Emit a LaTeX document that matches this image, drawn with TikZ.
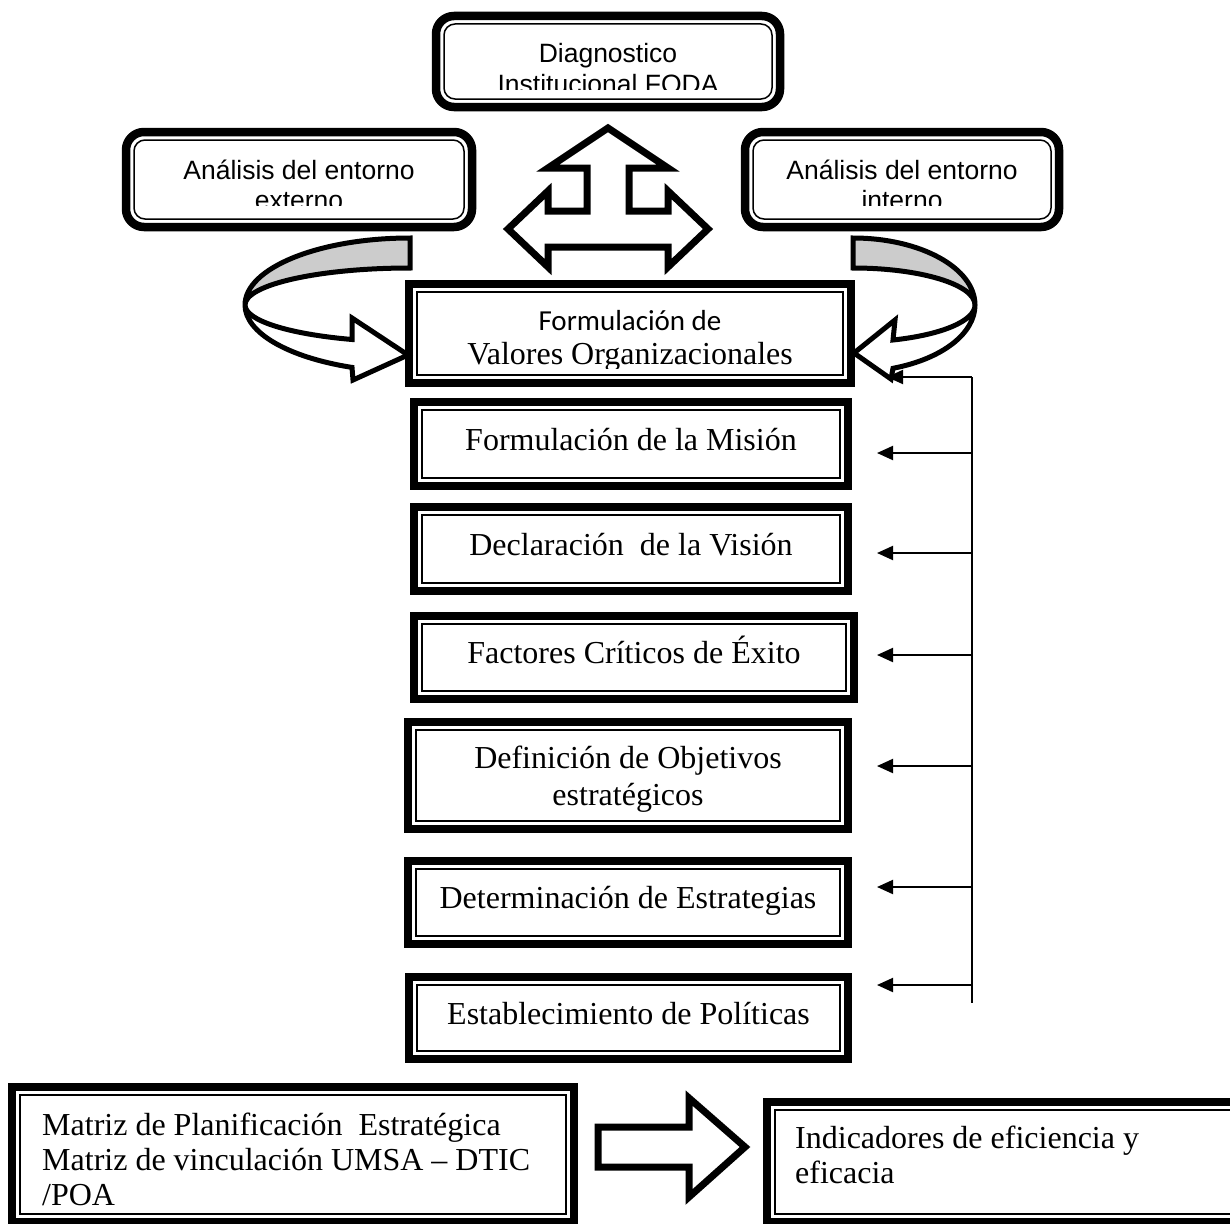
\documentclass[tikz,border=0pt]{standalone}
\usepackage{fontspec}
\setmainfont{Liberation Serif}
\newfontfamily\arialf{Liberation Sans}
\newfontfamily\calibf{Carlito}
\usetikzlibrary{arrows.meta}
\newcommand{\szT}{\fontsize{32}{38}\selectfont}
\newcommand{\szA}{\arialf\fontsize{26.5}{30}\selectfont}
\newcommand{\szC}{\calibf\fontsize{29}{34}\selectfont}
\newcommand{\szM}{\fontsize{32}{35}\selectfont}
\begin{document}
\begin{tikzpicture}[x=1pt,y=-1pt,
  dbox/.style={draw, line width=8.5pt, rectangle, outer sep=0pt, inner sep=0pt, fill=white,
    path picture={\draw[line width=1.5pt] ([shift={(8pt,-8pt)}]path picture bounding box.north west) rectangle ([shift={(-8pt,8pt)}]path picture bounding box.south east);}},
  rbox/.style={draw, line width=8.5pt, rectangle, rounded corners=18pt, outer sep=0pt, inner sep=0pt, fill=white,
    path picture={\draw[line width=1.5pt, rounded corners=11pt] ([shift={(8pt,-8pt)}]path picture bounding box.north west) rectangle ([shift={(-8pt,8pt)}]path picture bounding box.south east);}},
  tx/.style={anchor=base, inner sep=0pt, font=\szT},
  atx/.style={anchor=base, inner sep=0pt, font=\szA},
  ctx/.style={anchor=base, inner sep=0pt, font=\szC},
  mtx/.style={anchor=base west, inner sep=0pt, font=\szM},
  blockarrow/.style={draw, line width=7pt, fill=white, line join=miter},
  ribbon/.style={draw, line width=5pt, line join=miter},
  fbline/.style={draw, line width=2pt},
  fb/.style={draw, line width=2pt, -{Triangle[length=16pt,width=14pt]}}
]
\useasboundingbox (0,0) rectangle (1230,1223);
\clip (0,0) rectangle (1230,1223);

% ---------- boxes ----------
\node[rbox, minimum width=344pt, minimum height=91pt] (diag) at (608,61.5) {};
\node[rbox, minimum width=346pt, minimum height=95pt] (ext) at (299,179.5) {};
\node[rbox, minimum width=314pt, minimum height=95pt] (int) at (902,179.5) {};
\node[dbox, minimum width=442pt, minimum height=99pt] (val) at (630,333.5) {};
\node[dbox, minimum width=434pt, minimum height=84pt] (mis) at (631,444) {};
\node[dbox, minimum width=434pt, minimum height=84pt] (vis) at (631,549) {};
\node[dbox, minimum width=440pt, minimum height=83pt] (fac) at (634,657.5) {};
\node[dbox, minimum width=440pt, minimum height=107pt] (obj) at (628,775.5) {};
\node[dbox, minimum width=440pt, minimum height=83pt] (est) at (628,902.5) {};
\node[dbox, minimum width=439pt, minimum height=82pt] (pol) at (628.5,1018) {};
\node[dbox, minimum width=562pt, minimum height=135pt] (mat) at (293,1154.5) {};
\node[dbox, minimum width=489pt, minimum height=120pt] (ind) at (1011.5,1162) {};

% ---------- three-way block arrow ----------
\draw[blockarrow] (608,128) -- (548,168) -- (587,168) -- (587,211) -- (548,211) -- (548,191)
  -- (508,229) -- (548,267) -- (548,247) -- (668,247) -- (668,267) -- (708,229)
  -- (668,191) -- (668,211) -- (629,211) -- (629,168) -- (668,168) -- cycle;

% ---------- curved arrow, left ----------
\draw[ribbon, fill=gray!40] (410,238) .. controls (319,238) and (245,268) .. (245,305)
  .. controls (245,284.6) and (319,268) .. (410,268) -- cycle;
\draw[ribbon, fill=white] (245,305) .. controls (245,320.3) and (288,334) .. (352,339.5)
  -- (352,318) -- (408,355) -- (353,380) -- (352,367.4)
  .. controls (288,357.4) and (245,332.6) .. (245,305) -- cycle;

% ---------- curved arrow, right ----------
\draw[ribbon, fill=gray!40] (853,238) .. controls (920.4,238) and (975,268) .. (975,305)
  .. controls (975,284.6) and (920.4,268) .. (853,268) -- cycle;
\draw[ribbon, fill=white] (975,305) .. controls (975,320.7) and (942.1,334.8) .. (893,340)
  -- (895,320) -- (854,353) -- (891,379) -- (893,368.3)
  .. controls (942.1,358.9) and (975,333.5) .. (975,305) -- cycle;

% ---------- feedback line ----------
\coordinate (f1) at (972,377);
\coordinate (f2) at (972,453);
\coordinate (f3) at (972,553);
\coordinate (f4) at (972,655);
\coordinate (f5) at (972,766);
\coordinate (f6) at (972,887);
\coordinate (f7) at (972,985);
\coordinate (fend) at (972,1003);
\draw[fbline] (f1) -- (fend);
\draw[fb, shorten >=36pt] (f1) -- (f1 -| val.east);
\draw[fb, shorten >=29pt] (f2) -- (f2 -| mis.east);
\draw[fb, shorten >=29pt] (f3) -- (f3 -| vis.east);
\draw[fb, shorten >=23pt] (f4) -- (f4 -| fac.east);
\draw[fb, shorten >=29pt] (f5) -- (f5 -| obj.east);
\draw[fb, shorten >=29pt] (f6) -- (f6 -| est.east);
\draw[fb, shorten >=29pt] (f7) -- (f7 -| pol.east);

% ---------- bottom block arrow ----------
\draw[blockarrow] (598,1127) -- (689,1127) -- (689,1098) -- (745,1147) -- (689,1197) -- (689,1167) -- (598,1167) -- cycle;

% ---------- texts (clipped ones) ----------
\begin{scope}
\clip (440,18) rectangle (776,89);
\node[atx] (tdiag1) at (608,63) {Diagnostico};
\node[atx] (tdiag2) at (608,93) {Institucional FODA};
\end{scope}
\begin{scope}
\clip (130,134) rectangle (468,205);
\node[atx] (text1) at (299,179) {Análisis del entorno};
\node[atx] (text2) at (299,209) {externo};
\end{scope}
\begin{scope}
\clip (749,134) rectangle (1055,205);
\node[atx] (tint1) at (902,179) {Análisis del entorno};
\node[atx] (tint2) at (902,209) {interno};
\end{scope}
\begin{scope}
\clip (414,290) rectangle (846,368);
\node[ctx] (tval1) at (630,330) {Formulación de};
\node[tx] (tval2) at (630,364) {Valores Organizacionales};
\end{scope}

% ---------- texts ----------
\node[tx] (tmis) at (631,450) {Formulación de la Misión};
\node[tx] (tvis) at (631,555) {Declaración\ \ de la Visión};
\node[tx] (tfac) at (634,663) {Factores Críticos de Éxito};
\node[tx] (tobj1) at (628,768) {Definición de Objetivos};
\node[tx] (tobj2) at (628,805) {estratégicos};
\node[tx] (test) at (628,908) {Determinación de Estrategias};
\node[tx] (tpol) at (628.5,1024) {Establecimiento de Políticas};
\node[mtx] (tmat1) at (42,1135) {Matriz de Planificación\ \ Estratégica};
\node[mtx] (tmat2) at (42,1170) {Matriz de vinculación UMSA – DTIC};
\node[mtx] (tmat3) at (42,1205) {/POA};
\node[mtx] (tind1) at (795,1148) {Indicadores de eficiencia y};
\node[mtx] (tind2) at (795,1183) {eficacia};
\end{tikzpicture}
\end{document}
